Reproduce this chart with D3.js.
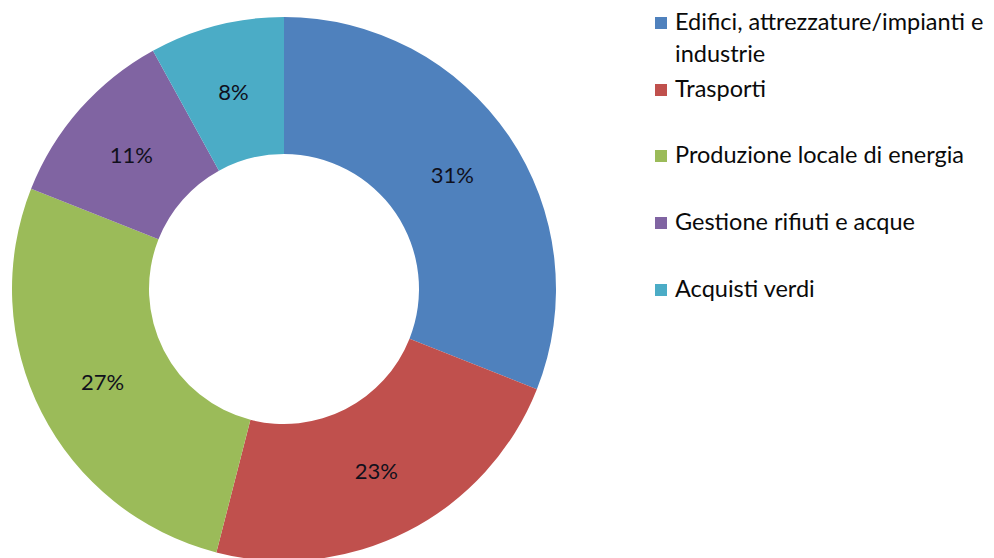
<!DOCTYPE html>
<html>
<head>
<meta charset="utf-8">
<script src="https://cdn.jsdelivr.net/npm/d3@7"></script>
<style>
  html, body { margin: 0; padding: 0; background: #ffffff; }
  svg { display: block; }
  text { font-family: Lato, "Open Sans", sans-serif; }
</style>
</head>
<body>
<svg id="chart" width="994" height="558"></svg>
<script>
// Ripartizione delle azioni per settore (%)
const categories = [
  "Edifici, attrezzature/impianti e industrie",
  "Trasporti",
  "Produzione locale di energia",
  "Gestione rifiuti e acque",
  "Acquisti verdi"
];
const values = [31, 23, 27, 11, 8];
const colors = ["#4F81BD", "#C0504D", "#9BBB59", "#8064A2", "#4BACC6"];
// Legend lines (first entry wraps onto two lines)
const legendLines = [
  ["Edifici, attrezzature/impianti e", "industrie"],
  ["Trasporti"],
  ["Produzione locale di energia"],
  ["Gestione rifiuti e acque"],
  ["Acquisti verdi"]
];

const svg = d3.select("#chart");
const cx = 284, cy = 289, outerR = 272, innerR = 135;

const data = categories.map((c, i) => ({ name: c, value: values[i], color: colors[i] }));

const pie = d3.pie().value(d => d.value).sort(null);
const arc = d3.arc().innerRadius(innerR).outerRadius(outerR);
const labelArc = d3.arc().innerRadius((innerR + outerR) / 2).outerRadius((innerR + outerR) / 2);

const g = svg.append("g").attr("transform", `translate(${cx},${cy})`);
const arcs = pie(data);

g.selectAll("path.slice")
  .data(arcs)
  .join("path")
  .attr("class", "slice")
  .attr("d", arc)
  .attr("fill", d => d.data.color);

g.selectAll("text.pct")
  .data(arcs)
  .join("text")
  .attr("class", "pct")
  .attr("transform", d => `translate(${labelArc.centroid(d)})`)
  .attr("text-anchor", "middle")
  .attr("dominant-baseline", "central")
  .attr("font-size", 22)
  .attr("fill", "#10101c")
  .text(d => d.data.value + "%");

// Legend
const legend = svg.append("g");
const rowBaselines = [30, 97, 163, 230, 297];
const lineGap = 32;
legendLines.forEach((lines, i) => {
  const base = rowBaselines[i];
  legend.append("rect")
    .attr("x", 655).attr("y", base - 13)
    .attr("width", 12).attr("height", 12)
    .attr("fill", colors[i]);
  const t = legend.append("text")
    .attr("x", 675).attr("y", base)
    .attr("font-size", 23.5)
    .attr("fill", "#0a0a0a");
  lines.forEach((ln, j) => {
    t.append("tspan").attr("x", 675).attr("y", base + j * lineGap).text(ln);
  });
});
</script>
</body>
</html>
